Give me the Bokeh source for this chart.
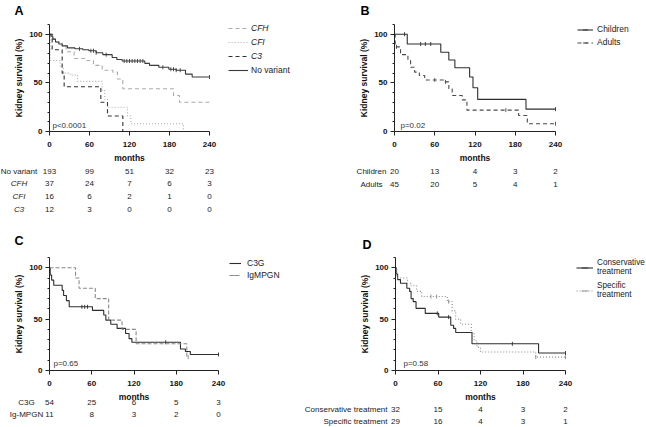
import math
from bokeh.plotting import figure
from bokeh.models import FixedTicker, Label, Legend, LegendItem
from bokeh.layouts import column, row
from bokeh.embed import file_html
from bokeh.resources import INLINE

FONT = "Liberation Sans"
MONTH_TICKS = [0, 60, 120, 180, 240]

# ---------------- Panel A data ----------------
A_novar_t = [0, 2, 5, 9, 14, 19, 27, 38, 50, 59, 70, 80, 94, 101, 109, 143, 150, 164, 179, 190, 204, 214, 240]
A_novar_s = [100, 98, 95, 92, 90, 88, 86, 85, 84, 83, 81, 79, 76, 74, 72.5, 70, 68, 66, 64, 63, 59, 56, 56]
A_novar_cens = [45, 62, 66, 70, 85, 112, 116, 120, 124, 128, 132, 136, 140, 170, 182, 186, 190, 196, 240]
A_cfh_t = [0, 5, 9, 19, 25, 37, 56, 66, 79, 95, 102, 110, 186, 195, 240]
A_cfh_s = [100, 95, 92, 88, 82, 75, 73, 68, 63, 61, 54, 44, 37, 30, 30]
A_cfi_t = [0, 1, 16, 21, 31, 42, 79, 83, 87, 117, 122, 201]
A_cfi_s = [100, 73, 66, 60, 58, 51.5, 42, 33, 25, 16, 8, 0]
A_c3_t = [0, 4, 19, 22, 77, 87, 110]
A_c3_s = [100, 84, 60, 46, 30, 16, 0]
A_groups = ["No variant", "CFH", "CFI", "C3"]
A_risk_novar = [193, 99, 51, 32, 23]
A_risk_cfh = [37, 24, 7, 6, 3]
A_risk_cfi = [16, 6, 2, 1, 0]
A_risk_c3 = [12, 3, 0, 0, 0]

# ---------------- Panel B data ----------------
B_child_t = [0, 19, 69, 81, 90, 112, 117, 124, 196, 240]
B_child_s = [100, 90, 81.5, 73.5, 65.6, 56, 45, 33, 23, 23]
B_child_cens = [15, 39, 46, 54, 240]
B_adult_t = [0, 1, 9, 20, 24, 30, 37, 45, 75, 81, 86, 101, 108, 185, 198, 240]
B_adult_s = [100, 87, 79, 73, 66, 61, 57.5, 53, 51, 44, 37, 32.5, 22, 16.5, 8, 8]
B_adult_cens = [3, 60, 76, 166, 240]
B_groups = ["Children", "Adults"]
B_risk_child = [20, 13, 4, 3, 2]
B_risk_adult = [45, 20, 5, 4, 1]

# ---------------- Panel C data ----------------
C_c3g_t = [0, 1, 3, 6, 18, 20, 24, 28, 61, 77, 80, 87, 96, 108, 113, 117, 186, 193, 200, 240]
C_c3g_s = [100, 93, 88, 83, 78, 73, 68, 62, 58.5, 54, 49, 45, 41, 36, 31, 27.5, 21, 18.5, 15.6, 15.6]
C_c3g_cens = [46, 50, 54, 165, 240]
C_ig_t = [0, 37, 42, 65, 84, 103, 123, 195, 197]
C_ig_s = [100, 90, 80, 70, 49, 40, 26, 13, 13]
C_ig_cens = [197]
C_groups = ["C3G", "Ig-MPGN"]
C_risk_c3g = [54, 25, 6, 5, 3]
C_risk_ig = [11, 8, 3, 2, 0]

# ---------------- Panel D data ----------------
D_cons_t = [0, 1, 3, 7, 16, 20, 22, 25, 29, 42, 61, 78, 82, 85, 108, 202, 240]
D_cons_s = [100, 94, 88.5, 85, 80, 77, 70, 67, 60.5, 55.6, 52, 44, 41, 37, 26, 17, 17]
D_cons_cens = [59, 75, 165, 240]
D_spec_t = [0, 2, 17, 22, 30, 37, 73, 80, 85, 92, 107, 111, 115, 120, 198, 240]
D_spec_s = [100, 90, 85, 82.5, 77, 72, 67, 58, 50, 45, 37, 29, 22.5, 18, 13, 13]
D_spec_cens = [50, 58, 75, 198, 240]
D_groups = ["Conservative treatment", "Specific treatment"]
D_risk_cons = [32, 15, 4, 3, 2]
D_risk_spec = [29, 16, 4, 3, 1]


def surv_at(ts, ss, t):
    v = ss[0]
    for ti, si in zip(ts, ss):
        if ti <= t:
            v = si
        else:
            break
    return v


class Panel:
    """A figure whose frame fills the whole canvas; axes fixed at x=0 / y=0."""

    def __init__(self, w, h, x0, x240, y0, y110):
        self.w, self.h = w, h
        self.x0, self.y0 = x0, y0
        self.kx = (x240 - x0) / 240.0
        self.ky = (y0 - y110) / 110.0
        p = figure(width=w, height=h,
                   x_range=(self.X(0), self.X(w)), y_range=(self.Y(h), self.Y(0)),
                   output_backend="svg", toolbar_location=None, min_border=0)
        p.outline_line_color = None
        p.grid.visible = False
        xa = p.xaxis[0]
        ya = p.yaxis[0]
        xa.ticker = FixedTicker(ticks=MONTH_TICKS, minor_ticks=[])
        ya.ticker = FixedTicker(ticks=[0, 50, 100], minor_ticks=[10, 20, 30, 40, 60, 70, 80, 90, 110])
        xa.fixed_location = 0
        ya.fixed_location = 0
        xa.bounds = (0, 240)
        ya.bounds = (0, 110)
        xa.axis_label = "months"
        ya.axis_label = "Kidney survival (%)"
        for ax in (xa, ya):
            ax.axis_line_color = "#222222"
            ax.major_tick_line_color = "#222222"
            ax.minor_tick_line_color = "#222222"
            ax.major_tick_in = 0
            ax.major_tick_out = 4
            ax.minor_tick_in = 0
            ax.minor_tick_out = 2
            ax.major_label_text_font = FONT
            ax.major_label_text_font_size = "8px"
            ax.major_label_text_font_style = "bold"
            ax.major_label_text_color = "#111111"
            ax.axis_label_text_font = FONT
            ax.axis_label_text_font_size = "8.5px"
            ax.axis_label_text_font_style = "bold"
            ax.axis_label_text_color = "#111111"
        xa.major_label_standoff = 6
        xa.axis_label_standoff = 3
        ya.major_label_standoff = 3
        ya.axis_label_standoff = 2
        self.p = p

    def X(self, px):
        return (px - self.x0) / self.kx

    def Y(self, py):
        return (self.y0 - py) / self.ky

    def curve(self, ts, ss, color, dash, cens=None, width=1.1):
        r = self.p.step(ts, ss, mode="after", line_color=color, line_width=width, line_dash=dash)
        rs = [r]
        if cens:
            cy = [surv_at(ts, ss, c) for c in cens]
            rc = self.p.scatter(cens, cy, marker="dash", angle=math.pi / 2, size=4,
                                line_color=color, line_width=0.9)
            rs.append(rc)
        return rs

    def text_px(self, px, py, s, align="center", baseline="middle", size="8px",
                style="normal", color="#222222"):
        self.p.add_layout(Label(x=self.X(px), y=self.Y(py), text=s, text_align=align,
                                text_baseline=baseline, text_font=FONT, text_font_size=size,
                                text_font_style=style, text_color=color))

    def text_data_x(self, x, py, s, size="8px", color="#222222"):
        self.p.add_layout(Label(x=x, y=self.Y(py), text=s, text_align="center",
                                text_baseline="middle", text_font=FONT, text_font_size=size,
                                text_color=color))

    def legend(self, items, left_px, top_px, gw, gh, standoff, style="normal", size="8.5px"):
        n = len(items)
        height = n * gh
        lg = Legend(items=items, location=(left_px, self.h - top_px - height),
                    glyph_width=gw, glyph_height=gh, label_height=gh,
                    label_standoff=standoff, spacing=0, padding=0, margin=0,
                    border_line_color=None, background_fill_alpha=0,
                    label_text_font=FONT, label_text_font_size=size,
                    label_text_font_style=style, label_text_color="#222222")
        self.p.add_layout(lg)


# ================= Panel A =================  (page origin 0,0)
A = Panel(320, 226, 49, 209, 131, 24)
rA_cfh = A.curve(A_cfh_t, A_cfh_s, "#ababab", "4 3")
rA_cfi = A.curve(A_cfi_t, A_cfi_s, "#ababab", "1 2")
rA_c3 = A.curve(A_c3_t, A_c3_s, "#333333", "4 3")
rA_nv = A.curve(A_novar_t, A_novar_s, "#3a3a3a", "solid", A_novar_cens)
A.legend([LegendItem(label="CFH", renderers=rA_cfh),
          LegendItem(label="CFI", renderers=rA_cfi),
          LegendItem(label="C3", renderers=rA_c3)], 228, 21, 20, 14, 3, "italic")
A.legend([LegendItem(label="No variant", renderers=[rA_nv[0]])], 228, 63, 20, 14, 3)
A.text_px(52, 125, "p<0.0001", align="left", color="#333333")
A.text_px(14, 3, "A", align="left", baseline="top", size="12.5px", style="bold", color="#000000")
A_rows_py = [171, 183, 196, 209]
for g, risk, py in zip(A_groups, [A_risk_novar, A_risk_cfh, A_risk_cfi, A_risk_c3], A_rows_py):
    A.text_px(18.5, py, g, style="normal" if g == "No variant" else "italic")
    for t, n in zip(MONTH_TICKS, risk):
        A.text_data_x(t, py, str(n))

# ================= Panel B =================  (page origin 320,0)
B = Panel(326, 226, 74, 235, 131, 24)
rB_c = B.curve(B_child_t, B_child_s, "#2e2e2e", "solid", B_child_cens)
rB_a = B.curve(B_adult_t, B_adult_s, "#4a4a4a", "4 3", B_adult_cens)
B.legend([LegendItem(label="Children", renderers=rB_c),
          LegendItem(label="Adults", renderers=rB_a)], 257, 22.5, 16, 13, 4)
B.text_px(80, 125, "p=0.02", align="left", color="#333333")
B.text_px(40, 3, "B", align="left", baseline="top", size="12.5px", style="bold", color="#000000")
B_rows_py = [171, 184]
for g, risk, py in zip(B_groups, [B_risk_child, B_risk_adult], B_rows_py):
    B.text_px(51, py, g)
    for t, n in zip(MONTH_TICKS, risk):
        B.text_data_x(t, py, str(n))

# ================= Panel C =================  (page origin 0,226)
C = Panel(293, 200, 49, 218, 144, 31)
rC_g = C.curve(C_c3g_t, C_c3g_s, "#2e2e2e", "solid", C_c3g_cens)
rC_i = C.curve(C_ig_t, C_ig_s, "#8a8a8a", "4 2", C_ig_cens)
C.legend([LegendItem(label="C3G", renderers=rC_g),
          LegendItem(label="IgMPGN", renderers=rC_i)], 229, 30.7, 12, 12, 6)
C.text_px(53, 137, "p=0.65", align="left", color="#333333")
C.text_px(14, 7, "C", align="left", baseline="top", size="12.5px", style="bold", color="#000000")
C_rows_py = [176, 188]
for g, risk, py in zip(C_groups, [C_risk_c3g, C_risk_ig], C_rows_py):
    C.text_px(26, py, g)
    for t, n in zip(MONTH_TICKS, risk):
        C.text_data_x(t, py, str(n))

# ================= Panel D =================  (page origin 293,226)
D = Panel(353, 200, 102, 272, 144, 31)
rD_c = D.curve(D_cons_t, D_cons_s, "#2e2e2e", "solid", D_cons_cens)
rD_s = D.curve(D_spec_t, D_spec_s, "#8a8a8a", "1 2", D_spec_cens)
D.legend([LegendItem(label="Conservative\ntreatment", renderers=rD_c),
          LegendItem(label="Specific\ntreatment", renderers=rD_s)], 283, 29.5, 17, 23, 4,
         size="8.2px")
D.text_px(110, 137, "p=0.58", align="left", color="#333333")
D.text_px(69, 11, "D", align="left", baseline="top", size="12.5px", style="bold", color="#000000")
D_rows_py = [183, 195]
for g, risk, py in zip(D_groups, [D_risk_cons, D_risk_spec], D_rows_py):
    D.text_px(94, py, g, align="right")
    for t, n in zip(MONTH_TICKS, risk):
        D.text_data_x(t, py, str(n))

layout = column(row(A.p, B.p), row(C.p, D.p))
open("out.html", "w").write(file_html(layout, INLINE))
